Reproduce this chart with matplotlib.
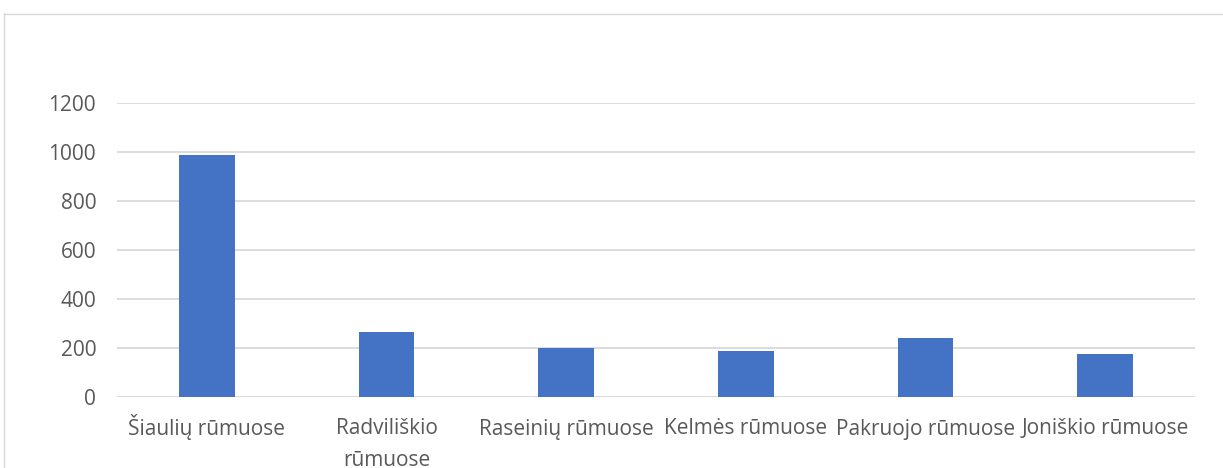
import matplotlib.pyplot as plt
from matplotlib.lines import Line2D

plt.rcParams['font.family'] = ['Open Sans', 'DejaVu Sans']

# duomenys
categories = ['Šiaulių rūmuose', 'Radviliškio\nrūmuose', 'Raseinių rūmuose',
              'Kelmės rūmuose', 'Pakruojo rūmuose', 'Joniškio rūmuose']
values = [988, 267, 200, 187, 242, 176]
yticks = [0, 200, 400, 600, 800, 1000, 1200]

W, H = 1223, 468
fig = plt.figure(figsize=(W / 100, H / 100), dpi=100)
ax = fig.add_axes([117 / W, 71 / H, (1195 - 117) / W, (397 - 103) / H])

x = list(range(len(categories)))
ax.bar(x, values, width=0.31, color='#4472c4', zorder=3)

ax.set_xlim(-0.5, len(categories) - 0.5)
ax.set_ylim(0, 1200)
ax.set_yticks(yticks)
ax.set_xticks(x)
ax.tick_params(axis='both', length=0, colors='#595959', labelsize=15)
ax.tick_params(axis='y', pad=15)
ax.tick_params(axis='x', pad=27)

# pirma eilutė – kaip tick etiketė, likusios eilutės žemiau
first_lines = [c.split('\n')[0] for c in categories]
ax.set_xticklabels(first_lines, va='baseline')
for i, c in enumerate(categories):
    for k, line in enumerate(c.split('\n')[1:], start=1):
        ax.annotate(line, xy=(i, 0), xycoords=ax.get_xaxis_transform(),
                    xytext=(0, -27 - 23 * k), textcoords='offset points',
                    ha='center', va='baseline', fontsize=15, color='#595959',
                    annotation_clip=False)

ax.grid(axis='y', color='#d9d9d9', linewidth=1.3, zorder=0)
for s in ax.spines.values():
    s.set_visible(False)

# rėmelis aplink diagramą
fig.add_artist(Line2D([3.5 / W, 3.5 / W], [0, 1 - 13 / H], color='#d9d9d9', lw=1))
fig.add_artist(Line2D([3.5 / W, 1], [1 - 13.5 / H, 1 - 13.5 / H], color='#d9d9d9', lw=1))

fig.savefig('out.png', dpi=100, facecolor='white')
